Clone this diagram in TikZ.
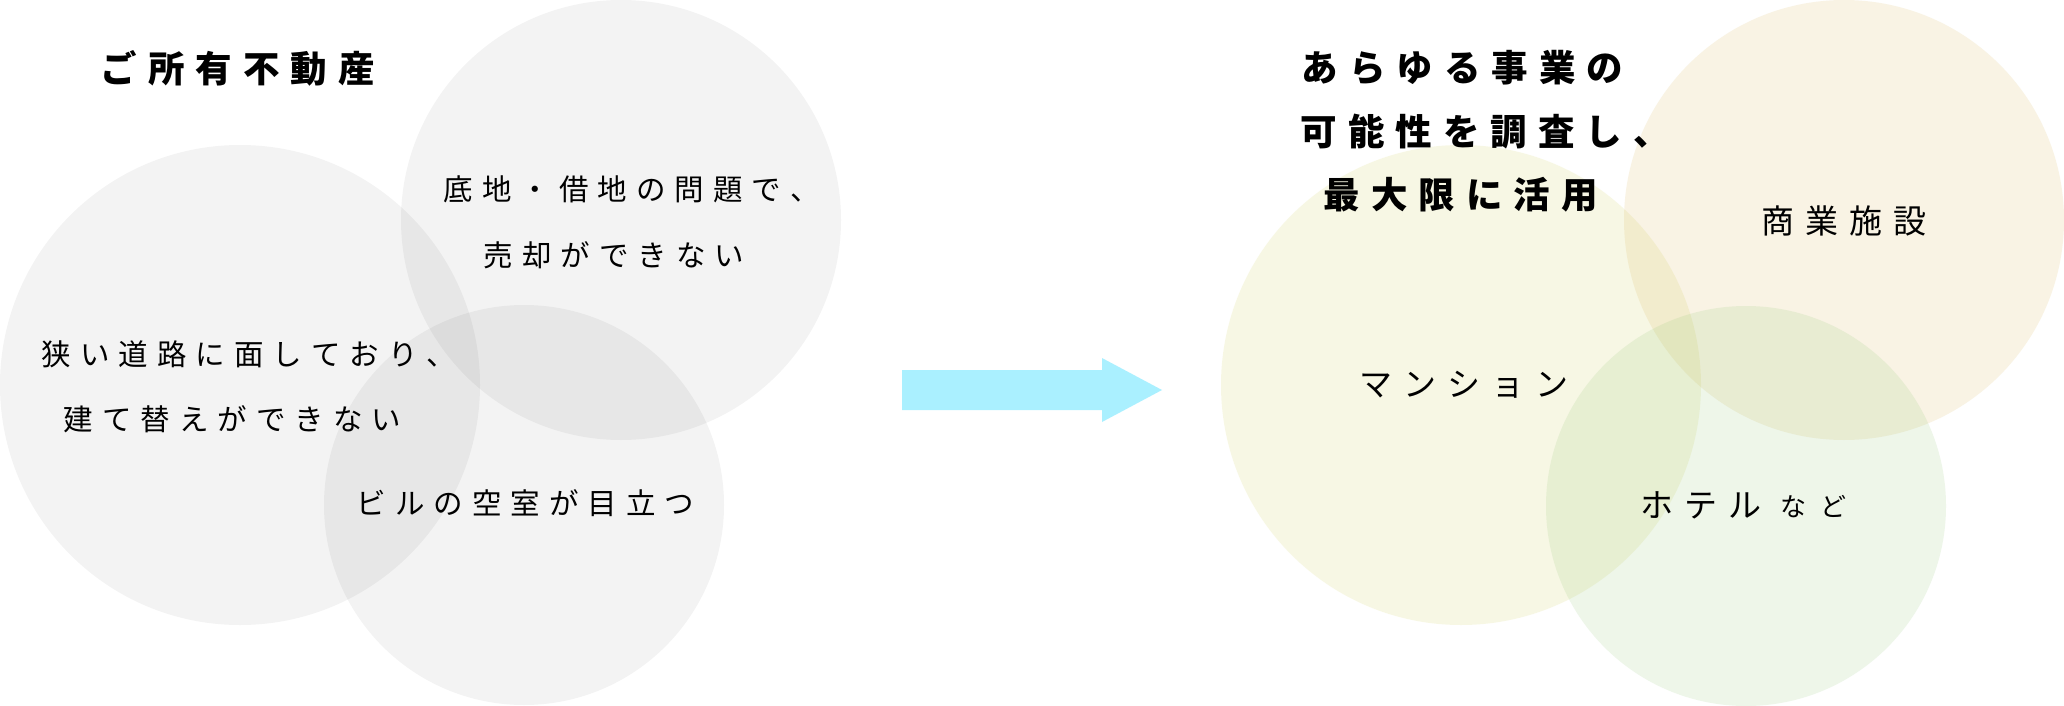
\documentclass[tikz,border=0pt]{standalone}
\usepackage{fontspec}
\setmainfont{Noto Sans CJK JP}
\newlength\myls
\def\myspaced#1#2{\setlength\myls{#1}\myfirst#2\relax}
\def\myfirst#1{#1\myrest}
\def\myrest#1{\ifx#1\relax\else\hspace*{\myls}#1\expandafter\myrest\fi}
\definecolor{arrowc}{RGB}{170,240,255}
\definecolor{ybase}{RGB}{205,205,70}
\definecolor{bbase}{RGB}{215,175,70}
\definecolor{gbase}{RGB}{135,195,105}
\begin{document}
\begin{tikzpicture}[x=1pt,y=-1pt,
  bubble/.style={circle,inner sep=0pt,fill opacity=#1},
  gbubble/.style={bubble=0.047,fill=black},
  title/.style={inner sep=0pt,anchor=west,font=\fontsize{36.5}{40}\selectfont\bfseries},
  lab/.style={inner sep=0pt,anchor=west,font=\fontsize{29.5}{32}\selectfont},
  rlab/.style={inner sep=0pt,anchor=west,font=\fontsize{33}{36}\selectfont},
  small/.style={inner sep=0pt,anchor=west,font=\fontsize{26}{28}\selectfont}]
\useasboundingbox (0,0) rectangle (2064,706);
\fill[white] (0,0) rectangle (2064,706);
% left circles
\node[gbubble,minimum size=480pt] (ca) at (240,385) {};
\node[gbubble,minimum size=440pt] (cb) at (621,220) {};
\node[gbubble,minimum size=400pt] (cc) at (524,505) {};
% right circles
\node[bubble=0.14,fill=ybase,minimum size=480pt] (cy) at (1461,385) {};
\node[bubble=0.14,fill=bbase,minimum size=440pt] (cbe) at (1844,220) {};
\node[bubble=0.14,fill=gbase,minimum size=400pt] (cg) at (1746,506) {};
% arrow
\fill[arrowc] (902,370) -- (1102,370) -- (1102,358) -- (1162,390) -- (1102,422) -- (1102,410) -- (902,410) -- cycle;
% left texts
\node[title] (t1) at (100.5,68) {\myspaced{11pt}{ご所有不動産}};
\node[lab] (b1) at (443.5,189.5) {\myspaced{9pt}{底地・借地の問題で、}};
\node[lab] (b2) at (483.5,255) {\myspaced{9pt}{売却ができない}};
\node[lab] (a1) at (41.5,354) {\myspaced{9pt}{狭い道路に面しており、}};
\node[lab] (a2) at (63.5,419) {\myspaced{9pt}{建て替えができない}};
\node[lab] (c1) at (356.5,503) {\myspaced{9pt}{ビルの空室が目立つ}};
% right texts
\node[title] (r1) at (1301.5,68) {\myspaced{11pt}{あらゆる事業の}};
\node[title] (r2) at (1300.5,132) {\myspaced{11pt}{可能性を調査し、}};
\node[title] (r3) at (1323.5,195) {\myspaced{11pt}{最大限に活用}};
\node[rlab] (s1) at (1761.5,221) {\myspaced{11pt}{商業施設}};
\node[rlab] (m1) at (1359.5,385) {\myspaced{11pt}{マンション}};
\node[rlab] (h1) at (1640.5,505) {\myspaced{11pt}{ホテル}};
\node[small] (h2) at (1780,507) {\myspaced{14pt}{など}};
\end{tikzpicture}
\end{document}
